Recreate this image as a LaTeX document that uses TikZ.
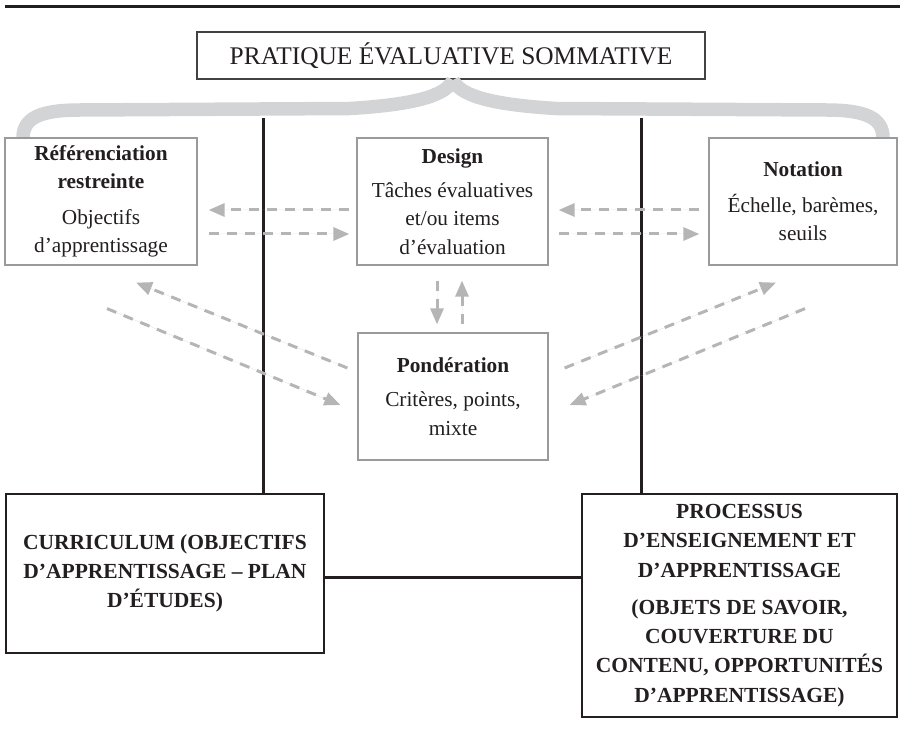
\documentclass[tikz,border=0pt]{standalone}
\usepackage{fontspec}
\setmainfont{Liberation Serif}
\usetikzlibrary{arrows.meta,calc}
\definecolor{ink}{HTML}{231F20}
\definecolor{boxgray}{HTML}{9A9A9A}
\definecolor{arrgray}{HTML}{B5B5B5}
\definecolor{bracegray}{HTML}{D3D4D6}
\begin{document}
\begin{tikzpicture}[x=1pt,y=-1pt,
  graybox/.style={draw=boxgray, line width=1.2pt, fill=white, align=center, inner sep=0pt, text=ink, font=\fontsize{21.3}{28.5}\selectfont},
  blackbox/.style={draw=ink, line width=2pt, align=center, inner sep=0pt, text=ink, font=\bfseries\fontsize{21.5}{29.3}\selectfont},
  titlebox/.style={draw=ink!85, line width=1.2pt, align=center, inner sep=0pt, text=ink, font=\fontsize{25.4}{30}\selectfont},
  darr/.style={draw=arrgray, fill=arrgray, line width=3pt, dash pattern=on 10pt off 8pt, -{Triangle[length=16pt,width=13pt]}},
  blackline/.style={draw=ink, line width=3pt},
  bracestyle/.style={draw=bracegray, line width=13.5pt}
]
\useasboundingbox (0,0) rectangle (900,738);
% top rule
\coordinate (ruleL) at (5,7);
\coordinate (ruleR) at (900,7);
\draw[draw=ink, line width=3pt] (ruleL) -- (ruleR);

% title
\node[titlebox, minimum width=508pt, minimum height=47pt] (title) at (451,55.5) {PRATIQUE ÉVALUATIVE SOMMATIVE};

% brace
\coordinate (btip) at (453,80);
\coordinate (bL) at (23,138);
\coordinate (bR) at (883,138);
\draw[bracestyle] (btip) .. controls (447,93) and (425,104) .. (350,108.5) -- (80,110) .. controls (40,110) and (23,118) .. (bL);
\draw[bracestyle] (btip) .. controls (459,93) and (481,104) .. (556,108.5) -- (826,110) .. controls (866,110) and (883,118) .. (bR);

% vertical black lines
\coordinate (v1) at (263,118);
\coordinate (v2) at (641,118);

% boxes
\node[graybox, minimum width=192pt, minimum height=127pt] (ref) at (101,201.5)
  {\textbf{Référenciation}\\\textbf{restreinte}\\[7pt]Objectifs\\d’apprentissage};
\node[graybox, minimum width=191pt, minimum height=127pt] (design) at (452.5,201.5)
  {\textbf{Design}\\[5pt]Tâches évaluatives\\et/ou items\\d’évaluation};
\node[graybox, minimum width=188pt, minimum height=127pt] (notation) at (803,201.5)
  {\textbf{Notation}\\[7pt]Échelle, barèmes,\\seuils};
\node[graybox, minimum width=190pt, minimum height=127pt] (pond) at (453,396.5)
  {\textbf{Pondération}\\[6pt]Critères, points,\\mixte};

\node[blackbox, minimum width=318pt, minimum height=159pt] (curr) at (165,573.5)
  {CURRICULUM (OBJECTIFS\\D’APPRENTISSAGE – PLAN\\D’ÉTUDES)};
\node[blackbox, minimum width=315pt, minimum height=223pt] (proc) at (739.5,605.5)
  {\rule{0pt}{8pt}PROCESSUS\\D’ENSEIGNEMENT ET\\D’APPRENTISSAGE\\[8pt](OBJETS DE SAVOIR,\\COUVERTURE DU\\CONTENU, OPPORTUNITÉS\\D’APPRENTISSAGE)};

\draw[blackline] (v1) -- (v1 |- curr.north);
\draw[blackline] (v2) -- (v2 |- proc.north);
\draw[blackline] ($(curr.east)+(0,3.5)$) -- ($(proc.west |- curr.east)+(0,3.5)$);

% dashed arrows horizontal
\draw[darr] ($(design.west)+(-7,8.5)$) -- ($(ref.east |- design.west)+(11,8.5)$);
\draw[darr] ($(ref.east |- design.west)+(11,32.5)$) -- ($(design.west)+(-7,32.5)$);
\draw[darr] ($(notation.west)+(-9,8.5)$) -- ($(design.east)+(10,8.5)$);
\draw[darr] ($(design.east)+(10,32.5)$) -- ($(notation.west)+(-9,32.5)$);

% vertical
\draw[darr] ($(design.south)+(-15.5,15)$) -- ($(design.south |- pond.north)+(-15.5,-8)$);
\draw[darr] ($(design.south |- pond.north)+(9.5,-8)$) -- ($(design.south)+(9.5,15)$);

% diagonals
\draw[darr] ($(pond.west)+(-10,-28.5)$) -- ($(ref.south)+(35,17)$);
\draw[darr] ($(ref.south)+(6,43)$) -- ($(pond.west)+(-17,8.5)$);
\draw[darr] ($(pond.east)+(16,-28.5)$) -- ($(notation.south)+(-27,17)$);
\draw[darr] ($(notation.south)+(2,43)$) -- ($(pond.east)+(21,8.5)$);
\end{tikzpicture}
\end{document}
